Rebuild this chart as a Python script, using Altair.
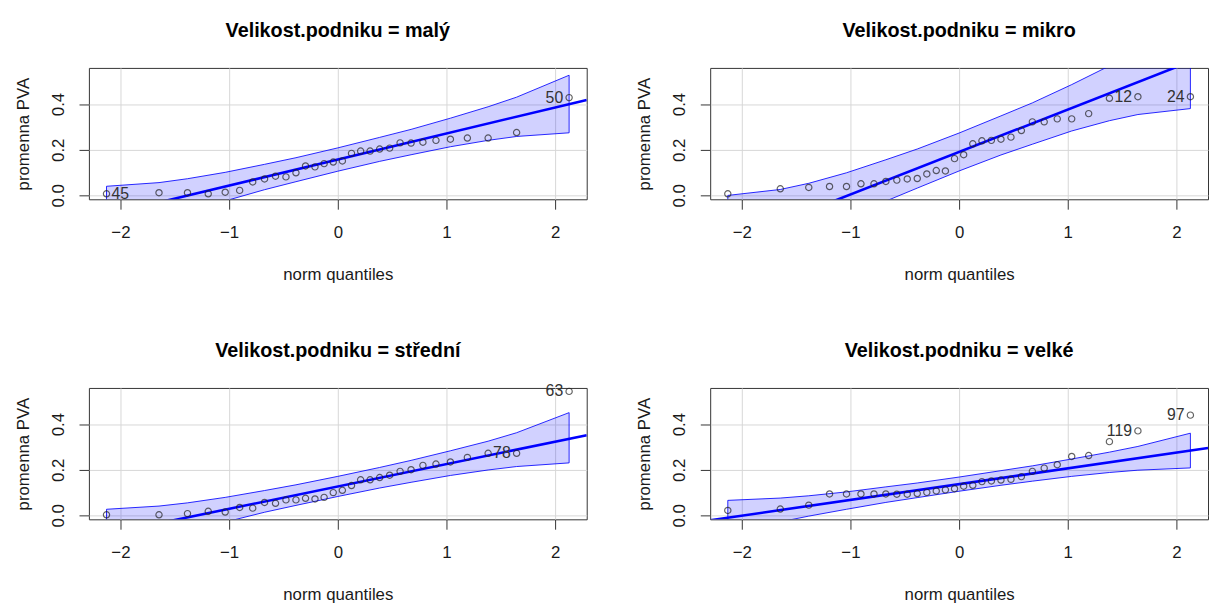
import altair as alt
import pandas as pd

# ---- data ----
groups = ["malý", "mikro", "střední", "velké"]

# theoretical normal quantiles of the 30 points (same in every panel)
norm_q = [-2.128, -1.645, -1.383, -1.192, -1.036, -0.903, -0.783, -0.674, -0.573, -0.477,
          -0.385, -0.297, -0.210, -0.126, -0.042, 0.042, 0.126, 0.210, 0.297, 0.385,
          0.477, 0.573, 0.674, 0.783, 0.903, 1.036, 1.192, 1.383, 1.645, 2.128]

pva_maly = [0.007, 0.012, 0.012, 0.007, 0.014, 0.022, 0.059, 0.072, 0.084, 0.081,
            0.099, 0.129, 0.125, 0.139, 0.146, 0.151, 0.184, 0.194, 0.194, 0.203,
            0.207, 0.230, 0.229, 0.233, 0.241, 0.246, 0.251, 0.251, 0.275, 0.428]
pva_mikro = [0.007, 0.029, 0.035, 0.039, 0.039, 0.051, 0.051, 0.061, 0.067, 0.072,
             0.074, 0.094, 0.109, 0.107, 0.161, 0.178, 0.226, 0.239, 0.241, 0.246,
             0.255, 0.284, 0.322, 0.322, 0.335, 0.335, 0.358, 0.425, 0.432, 0.432]
pva_stredni = [0.003, 0.003, 0.008, 0.018, 0.015, 0.035, 0.032, 0.057, 0.053, 0.068,
               0.068, 0.075, 0.072, 0.079, 0.100, 0.110, 0.131, 0.156, 0.156, 0.166,
               0.176, 0.193, 0.200, 0.219, 0.225, 0.234, 0.254, 0.272, 0.272, 0.543]
pva_velke = [0.022, 0.028, 0.045, 0.094, 0.094, 0.094, 0.094, 0.094, 0.093, 0.093,
             0.096, 0.101, 0.107, 0.112, 0.117, 0.128, 0.132, 0.148, 0.151, 0.155,
             0.158, 0.170, 0.193, 0.207, 0.222, 0.258, 0.262, 0.323, 0.370, 0.439]
pva = [pva_maly, pva_mikro, pva_stredni, pva_velke]

# reference line (intercept, slope) per panel
line_a = [0.157, 0.190, 0.127, 0.137]
line_b = [0.114, 0.186, 0.098, 0.069]

# confidence envelope, read at these quantiles
band_q = [-2.128, -1.645, -1.383, -1.036, -0.674, -0.385, 0.0, 0.385, 0.674, 1.036, 1.383, 1.645, 2.128]
band_hi = [
    [0.040, 0.056, 0.073, 0.101, 0.136, 0.165, 0.208, 0.254, 0.289, 0.338, 0.388, 0.430, 0.526],
    [0.000, 0.026, 0.053, 0.099, 0.156, 0.203, 0.273, 0.348, 0.405, 0.485, 0.567, 0.636, 0.792],
    [0.027, 0.041, 0.055, 0.079, 0.109, 0.134, 0.171, 0.210, 0.241, 0.283, 0.325, 0.362, 0.450],
    [0.066, 0.076, 0.086, 0.103, 0.125, 0.142, 0.168, 0.196, 0.217, 0.247, 0.277, 0.302, 0.360],
]
band_lo = [
    [-0.212, -0.116, -0.074, -0.024, 0.025, 0.060, 0.106, 0.149, 0.178, 0.213, 0.241, 0.258, 0.274],
    [-0.412, -0.256, -0.187, -0.105, -0.025, 0.032, 0.107, 0.177, 0.224, 0.282, 0.327, 0.354, 0.380],
    [-0.190, -0.108, -0.071, -0.029, 0.014, 0.044, 0.083, 0.120, 0.145, 0.175, 0.199, 0.214, 0.230],
    [-0.086, -0.028, -0.003, 0.027, 0.057, 0.078, 0.106, 0.132, 0.150, 0.171, 0.188, 0.198, 0.208],
]

# labelled points: (panel, point index, label, side)
point_labels = [
    (0, 0, "45", "right"), (0, 29, "50", "left"),
    (1, 28, "12", "left"), (1, 29, "24", "left"),
    (2, 28, "78", "left"), (2, 29, "63", "left"),
    (3, 28, "119", "left"), (3, 29, "97", "left"),
]

x_ticks = [-2, -1, 0, 1, 2]
y_ticks = [0.0, 0.1, 0.2, 0.3, 0.4, 0.5]
x_domain = [-2.29, 2.29]
y_domain = [-0.017, 0.558]
title_offsets = [27, 27, 22.5, 27]

FONT = "Liberation Sans"
TXT = "#1a1a1a"


def panel(i):
    xs = alt.Scale(domain=x_domain, nice=False, zero=False)
    ys = alt.Scale(domain=y_domain, nice=False, zero=False)
    xax = alt.Axis(values=x_ticks, title="norm quantiles", format="d", grid=True,
                   gridColor="#d6d6d6", gridWidth=1, domain=False, tickSize=10,
                   tickColor="#333333", labelPadding=16, titlePadding=26,
                   labelFontSize=17, titleFontSize=17, labelFont=FONT, titleFont=FONT,
                   labelColor=TXT, titleColor=TXT, titleFontWeight="normal")
    yax = alt.Axis(values=y_ticks, title="promenna PVA", grid=True,
                   gridColor="#d6d6d6", gridWidth=1, domain=False, tickSize=10,
                   tickColor="#333333", labelAngle=270, labelPadding=12, titlePadding=17,
                   labelExpr="round(datum.value*10) % 2 == 0 ? format(datum.value, '.1f') : ''",
                   labelFontSize=17, titleFontSize=17, labelFont=FONT, titleFont=FONT,
                   labelColor=TXT, titleColor=TXT, titleFontWeight="normal")

    pts = pd.DataFrame({"q": norm_q, "v": pva[i]})
    band = pd.DataFrame({"q": band_q, "lo": band_lo[i], "hi": band_hi[i]})
    ln = pd.DataFrame({"q": x_domain})
    ln["v"] = line_a[i] + line_b[i] * ln["q"]
    labs = pd.DataFrame([
        {"q": norm_q[k], "v": pva[i][k], "t": t, "side": side}
        for (p, k, t, side) in point_labels if p == i
    ])

    base_band = alt.Chart(band).mark_area(
        fill="#0000ff", fillOpacity=0.18, stroke="#0000ff", strokeWidth=1,
        strokeOpacity=0.85, clip=True
    ).encode(
        x=alt.X("q:Q", scale=xs, axis=xax),
        y=alt.Y("lo:Q", scale=ys, axis=yax),
        y2="hi:Q",
    )
    ref_line = alt.Chart(ln).mark_line(color="#0000ff", strokeWidth=2.6, clip=True).encode(
        x="q:Q", y="v:Q"
    )
    points = alt.Chart(pts).mark_point(
        shape="circle", filled=False, size=40, color="#222222", strokeWidth=1.2
    ).encode(x="q:Q", y="v:Q")
    layers = [base_band, ref_line, points]
    left = labs[labs["side"] == "left"]
    right = labs[labs["side"] == "right"]
    if len(left):
        layers.append(alt.Chart(left).mark_text(
            align="right", baseline="middle", dx=-6, fontSize=16, font=FONT, color="#333333"
        ).encode(x="q:Q", y="v:Q", text="t:N"))
    if len(right):
        layers.append(alt.Chart(right).mark_text(
            align="left", baseline="middle", dx=5, fontSize=16, font=FONT, color="#333333"
        ).encode(x="q:Q", y="v:Q", text="t:N"))

    return alt.layer(*layers).properties(
        width=504, height=133,
        title=alt.TitleParams(text="Velikost.podniku = " + groups[i], fontSize=20,
                              font=FONT, fontWeight="bold", color="#000000",
                              anchor="middle", frame="group", offset=title_offsets[i]),
    )


chart = alt.concat(
    panel(0), panel(1), panel(2), panel(3),
    columns=2, spacing={"row": 191, "column": 125}, bounds="flush",
).properties(
    padding={"left": 14, "top": 17, "right": 0, "bottom": 0}
).configure(background="white").configure_view(stroke="#333333", strokeWidth=1)

chart.save("out.html", embed_options={"renderer": "svg", "actions": False})
